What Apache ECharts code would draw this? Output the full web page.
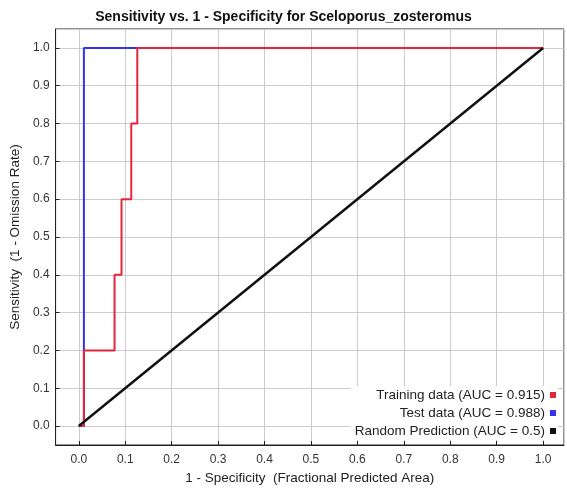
<!DOCTYPE html>
<html>
<head>
<meta charset="utf-8">
<script src="https://cdn.jsdelivr.net/npm/echarts@6/dist/echarts.min.js"></script>
<style>
html,body{margin:0;padding:0;background:#fff;}
#chart{width:567px;height:490px;}
</style>
</head>
<body>
<div id="chart"></div>
<script>
// Data
var trainX = [0, 0.011, 0.011, 0.077, 0.077, 0.092, 0.092, 0.113, 0.113, 0.126, 0.126, 1.0];
var trainY = [0, 0, 0.2, 0.2, 0.4, 0.4, 0.6, 0.6, 0.8, 0.8, 1.0, 1.0];
var testX = [0, 0.011, 0.011, 1.0];
var testY = [0, 0, 1.0, 1.0];
var randomX = [0, 1.0];
var randomY = [0, 1.0];
var seriesNames = ['Training data (AUC = 0.915)', 'Test data (AUC = 0.988)', 'Random Prediction (AUC = 0.5)'];
var titleText = 'Sensitivity vs. 1 - Specificity for Sceloporus_zosteromus';
var xName = '1 - Specificity  (Fractional Predicted Area)';
var yName = 'Sensitivity  (1 - Omission Rate)';

function pairs(xs, ys) {
  return xs.map(function (x, i) { return [x, ys[i]]; });
}

var FONT = '"Liberation Sans", Arial, sans-serif';
var chart = echarts.init(document.getElementById('chart'), null, {renderer: 'canvas'});

function axisCommon() {
  return {
    type: 'value',
    minInterval: 0.1,
    maxInterval: 0.1,
    splitNumber: 11,
    axisLine: {show: true, onZero: false, lineStyle: {color: '#222', width: 1}},
    axisTick: {show: true, inside: true, length: 4, lineStyle: {color: '#222'}},
    axisLabel: {
      color: '#333', fontSize: 12, fontFamily: FONT,
      showMinLabel: false, showMaxLabel: false,
      formatter: function (v) { return v.toFixed(1); }
    },
    splitLine: {show: true, lineStyle: {color: '#cccccc', width: 1}},
    nameLocation: 'middle',
    nameTextStyle: {color: '#222', fontSize: 13.5, fontFamily: FONT}
  };
}

var xAxis = axisCommon();
xAxis.min = -0.05; xAxis.max = 1.045;
xAxis.name = xName; xAxis.nameGap = 26;
xAxis.axisLabel.margin = 9;

var yAxis = axisCommon();
yAxis.min = -0.05; yAxis.max = 1.05;
yAxis.name = yName; yAxis.nameGap = 28;
yAxis.axisLabel.margin = 6;

chart.setOption({
  animation: false,
  backgroundColor: '#ffffff',
  title: {
    text: titleText, left: 'center', top: 5,
    textStyle: {fontSize: 14, fontWeight: 'bold', color: '#111', fontFamily: FONT}
  },
  grid: {
    left: 54, right: 3, top: 29, bottom: 41,
    show: true, borderColor: '#222', borderWidth: 1, backgroundColor: '#fff'
  },
  legend: {
    orient: 'vertical', right: 9, top: 386, align: 'right',
    itemWidth: 6, itemHeight: 6, itemGap: 2, icon: 'rect',
    backgroundColor: '#fff', padding: [1, 2, 1, 4],
    textStyle: {fontSize: 13.5, color: '#222', fontFamily: FONT, lineHeight: 16},
    data: seriesNames
  },
  xAxis: xAxis,
  yAxis: yAxis,
  series: [
    {
      name: seriesNames[1], type: 'line', showSymbol: false, symbol: 'none',
      data: pairs(testX, testY), color: '#3434f0',
      lineStyle: {color: '#3434f0', width: 2}, z: 2
    },
    {
      name: seriesNames[0], type: 'line', showSymbol: false, symbol: 'none',
      data: pairs(trainX, trainY), color: '#e3263a',
      lineStyle: {color: '#e3263a', width: 2}, z: 3
    },
    {
      name: seriesNames[2], type: 'line', showSymbol: false, symbol: 'none',
      data: pairs(randomX, randomY), color: '#111111',
      lineStyle: {color: '#111111', width: 2.5}, z: 4
    }
  ]
});
</script>
</body>
</html>
